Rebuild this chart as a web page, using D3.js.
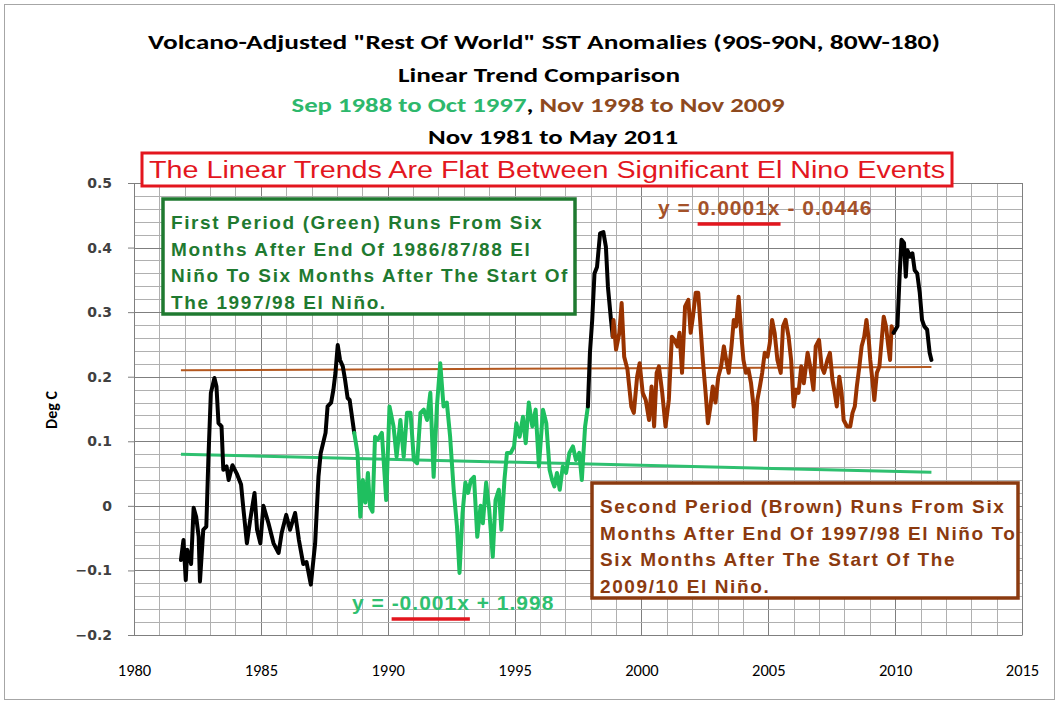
<!DOCTYPE html>
<html><head><meta charset="utf-8">
<script src="https://cdn.jsdelivr.net/npm/d3@7"></script>
<style>
body{margin:0;background:#fff;}
svg{display:block;}
</style></head>
<body>
<svg id="chart" width="1059" height="704"></svg>
<script>
// ---- DATA ----
const blackAYears = [1981.85,1981.95,1982.04,1982.10,1982.25,1982.35,1982.45,1982.55,1982.60,1982.73,1982.85,1982.93,1983.03,1983.17,1983.25,1983.33,1983.45,1983.52,1983.65,1983.73,1983.88,1984.05,1984.22,1984.30,1984.45,1984.58,1984.75,1984.85,1984.98,1985.10,1985.30,1985.50,1985.70,1985.82,1986.00,1986.15,1986.35,1986.50,1986.67,1986.80,1986.97,1987.14,1987.27,1987.36,1987.55,1987.63,1987.77,1987.86,1987.94,1988.03,1988.12,1988.23,1988.32,1988.42,1988.50,1988.68];
const blackAValues = [-0.084,-0.053,-0.115,-0.068,-0.090,-0.003,-0.017,-0.048,-0.117,-0.037,-0.032,0.071,0.175,0.198,0.185,0.128,0.123,0.056,0.061,0.040,0.063,0.050,0.033,0.000,-0.058,-0.022,0.020,-0.037,-0.058,0.000,-0.027,-0.058,-0.073,-0.042,-0.014,-0.037,-0.011,-0.053,-0.090,-0.087,-0.122,-0.058,0.045,0.082,0.113,0.154,0.160,0.180,0.206,0.249,0.226,0.216,0.195,0.167,0.164,0.113];

const greenYears = [1988.68,1988.81,1988.92,1989.02,1989.12,1989.22,1989.30,1989.40,1989.50,1989.60,1989.77,1989.94,1990.07,1990.23,1990.35,1990.50,1990.63,1990.76,1990.90,1991.03,1991.16,1991.29,1991.42,1991.55,1991.68,1991.81,1991.94,1992.07,1992.20,1992.33,1992.46,1992.60,1992.73,1992.83,1992.95,1993.06,1993.17,1993.28,1993.40,1993.53,1993.66,1993.75,1993.88,1994.00,1994.14,1994.25,1994.38,1994.48,1994.60,1994.70,1994.85,1994.98,1995.07,1995.20,1995.33,1995.44,1995.56,1995.70,1995.83,1995.96,1996.12,1996.25,1996.38,1996.48,1996.57,1996.67,1996.78,1996.90,1997.03,1997.16,1997.30,1997.42,1997.55,1997.65,1997.78,1997.89];
const greenValues = [0.113,0.082,-0.017,0.040,0.005,0.051,-0.001,-0.009,0.107,0.102,0.113,0.009,0.154,0.123,0.076,0.133,0.076,0.144,0.144,0.071,0.066,0.144,0.149,0.133,0.175,0.045,0.154,0.221,0.154,0.160,0.107,0.025,-0.032,-0.104,-0.011,0.036,0.020,0.040,0.045,-0.048,0.000,-0.027,0.036,-0.006,-0.079,0.009,0.025,-0.037,0.040,0.082,0.082,0.092,0.128,0.107,0.138,0.097,0.160,0.123,0.149,0.061,0.149,0.128,0.056,0.040,0.030,0.051,0.025,0.061,0.051,0.082,0.092,0.071,0.082,0.040,0.123,0.154];

const blackBYears = [1997.89,1997.97,1998.06,1998.15,1998.25,1998.37,1998.50,1998.60,1998.68,1998.80,1998.87];
const blackBValues = [0.154,0.237,0.288,0.360,0.370,0.422,0.424,0.401,0.339,0.288,0.262];

const brownYears = [1998.87,1998.90,1999.00,1999.13,1999.22,1999.32,1999.45,1999.60,1999.70,1999.83,1999.93,2000.05,2000.17,2000.30,2000.40,2000.50,2000.60,2000.69,2000.82,2000.95,2001.08,2001.20,2001.30,2001.42,2001.50,2001.60,2001.72,2001.85,2001.94,2002.03,2002.14,2002.24,2002.33,2002.42,2002.53,2002.62,2002.72,2002.81,2002.92,2003.03,2003.14,2003.25,2003.34,2003.44,2003.55,2003.64,2003.73,2003.83,2003.93,2004.02,2004.12,2004.22,2004.32,2004.42,2004.48,2004.57,2004.67,2004.76,2004.86,2004.97,2005.06,2005.15,2005.25,2005.36,2005.49,2005.58,2005.68,2005.80,2005.90,2006.00,2006.10,2006.19,2006.30,2006.40,2006.55,2006.65,2006.78,2006.87,2007.00,2007.10,2007.20,2007.33,2007.43,2007.53,2007.60,2007.70,2007.80,2007.89,2007.97,2008.10,2008.23,2008.32,2008.41,2008.49,2008.59,2008.68,2008.78,2008.87,2008.96,2009.02,2009.09,2009.18,2009.28,2009.38,2009.47,2009.55,2009.64,2009.73,2009.80,2009.86,2009.94];
const brownValues = [0.262,0.288,0.242,0.268,0.314,0.231,0.211,0.154,0.144,0.200,0.221,0.175,0.164,0.133,0.185,0.123,0.206,0.216,0.175,0.123,0.164,0.262,0.257,0.247,0.268,0.206,0.309,0.319,0.268,0.293,0.330,0.330,0.278,0.226,0.175,0.128,0.154,0.185,0.160,0.200,0.216,0.247,0.226,0.206,0.247,0.288,0.278,0.324,0.268,0.226,0.206,0.211,0.190,0.154,0.102,0.164,0.185,0.206,0.237,0.231,0.252,0.288,0.268,0.226,0.206,0.278,0.288,0.262,0.226,0.154,0.180,0.175,0.216,0.190,0.237,0.216,0.180,0.247,0.257,0.216,0.206,0.226,0.237,0.195,0.180,0.154,0.200,0.175,0.133,0.123,0.123,0.144,0.154,0.185,0.216,0.247,0.262,0.288,0.257,0.226,0.200,0.164,0.206,0.216,0.257,0.293,0.278,0.247,0.226,0.278,0.268];

const blackCYears = [2009.94,2010.09,2010.18,2010.25,2010.35,2010.42,2010.48,2010.59,2010.68,2010.77,2010.87,2010.97,2011.06,2011.15,2011.26,2011.36,2011.43];
const blackCValues = [0.268,0.278,0.360,0.412,0.407,0.355,0.396,0.386,0.391,0.365,0.360,0.330,0.288,0.278,0.273,0.237,0.226];

const trendYears = [1981.85, 2011.43];
const greenTrendValues = [0.080, 0.052];
const brownTrendValues = [0.210, 0.215];

const xTickLabels = [1980,1985,1990,1995,2000,2005,2010,2015];
const yTickLabels = [-0.2,-0.1,0,0.1,0.2,0.3,0.4,0.5];

const titleLines = ['Volcano-Adjusted "Rest Of World" SST Anomalies (90S-90N, 80W-180)','Linear Trend Comparison','Nov 1981 to May 2011'];
const periodLabels = ['Sep 1988 to Oct 1997', ', ', 'Nov 1998 to Nov 2009'];
const bannerText = 'The Linear Trends Are Flat Between Significant El Nino Events';
const greenNote = ['First Period (Green) Runs From Six','Months After End Of 1986/87/88 El','Niño To Six Months After The Start Of','The 1997/98 El Niño.'];
const brownNote = ['Second Period (Brown) Runs From Six','Months After End Of 1997/98 El Niño To','Six Months After The Start Of The','2009/10 El Niño.'];
const greenEq = ['y = ','-0.001x',' + 1.998'];
const brownEq = ['y = ','0.0001x',' - 0.0446'];

// ---- CHART ----
const svg = d3.select('#chart');
const W = 1059, H = 704;
const x = d3.scaleLinear().domain([1980, 2015]).range([134, 1022]);
const y = d3.scaleLinear().domain([-0.2, 0.5]).range([635, 183]);

const calibri = "Carlito, Calibri, Lato, 'Open Sans', sans-serif";
const arial = "'Liberation Sans', Arial, sans-serif";

// outer frame
svg.append('rect').attr('x',4.5).attr('y',4.5).attr('width',W-9).attr('height',H-9)
  .attr('fill','#fff').attr('stroke','#a6a6a6').attr('stroke-width',1);

// grid
const g = svg.append('g');
const minorYears = d3.range(1980, 2016, 1);
g.selectAll('.vg').data(minorYears).join('line')
  .attr('x1', d=>Math.round(x(d))+0.5).attr('x2', d=>Math.round(x(d))+0.5)
  .attr('y1', y(0.5)).attr('y2', y(-0.2))
  .attr('stroke', d=> d%5===0 ? '#7f7f7f' : '#b0b0b0').attr('stroke-width',1);
const minorY = d3.range(0, 36).map(i => -0.2 + i*0.02);
g.selectAll('.hg').data(minorY).join('line')
  .attr('x1', x(1980)).attr('x2', x(2015))
  .attr('y1', d=>Math.round(y(d))+0.5).attr('y2', d=>Math.round(y(d))+0.5)
  .attr('stroke', (d,i)=> i%5===0 ? '#7f7f7f' : '#b0b0b0').attr('stroke-width',1);

// axes
const yAxis = d3.axisLeft(y).tickValues(yTickLabels).tickSize(6).tickPadding(16)
  .tickFormat(d => d===0 ? '0' : d3.format('.1f')(d));
const ya = svg.append('g').attr('transform',`translate(${x(1980)},0)`).call(yAxis);
ya.select('.domain').attr('stroke','#7f7f7f');
ya.selectAll('.tick line').attr('stroke','#7f7f7f');
ya.selectAll('text').attr('font-family',"'DejaVu Sans', Verdana, sans-serif").attr('font-weight','bold')
  .attr('font-size','14px').attr('fill','#404040');

const xAxis = d3.axisBottom(x).tickValues(xTickLabels).tickSize(0).tickPadding(29).tickFormat(d3.format('d'));
const xa = svg.append('g').attr('transform',`translate(0,${y(-0.2)})`).call(xAxis);
xa.select('.domain').attr('stroke','#7f7f7f');
xa.selectAll('text').attr('font-family',calibri).attr('font-size','16.5px').attr('fill','#000');

svg.append('text').attr('transform','translate(57,410) rotate(-90)').attr('text-anchor','middle')
  .attr('font-family',calibri).attr('font-weight','bold').attr('font-size','16px').text('Deg C');

// trend lines
const line = d3.line().x(d=>x(d[0])).y(d=>y(d[1]));
svg.append('path').datum(d3.zip(trendYears, brownTrendValues)).attr('d',line)
  .attr('fill','none').attr('stroke','#b4581f').attr('stroke-width',2);
svg.append('path').datum(d3.zip(trendYears, greenTrendValues)).attr('d',line)
  .attr('fill','none').attr('stroke','#2fc070').attr('stroke-width',3);

// data series
const series = [
  [blackAYears, blackAValues, '#000'],
  [greenYears, greenValues, '#1fbf5f'],
  [blackBYears, blackBValues, '#000'],
  [brownYears, brownValues, '#993300'],
  [blackCYears, blackCValues, '#000']
];
series.forEach(([xs, vs, c]) => {
  svg.append('path').datum(d3.zip(xs, vs)).attr('d', line)
    .attr('fill','none').attr('stroke',c).attr('stroke-width',4)
    .attr('stroke-linejoin','round').attr('stroke-linecap','round');
});

// titles
const t = svg.append('g').attr('font-family',calibri).attr('font-weight','bold').attr('text-anchor','middle');
t.append('text').attr('x',544).attr('y',49).attr('font-size','20px').attr('textLength',792).attr('lengthAdjust','spacingAndGlyphs').text(titleLines[0]);
t.append('text').attr('x',539).attr('y',82).attr('font-size','20px').attr('textLength',282).attr('lengthAdjust','spacingAndGlyphs').text(titleLines[1]);
const pt = t.append('text').attr('x',538).attr('y',112).attr('font-size','20px').attr('textLength',493).attr('lengthAdjust','spacingAndGlyphs');
pt.append('tspan').attr('fill','#2db86c').text(periodLabels[0]);
pt.append('tspan').attr('fill','#000').text(periodLabels[1]);
pt.append('tspan').attr('fill','#8e4a1e').text(periodLabels[2]);
t.append('text').attr('x',553).attr('y',144).attr('font-size','20px').attr('textLength',250).attr('lengthAdjust','spacingAndGlyphs').text(titleLines[2]);

// banner
svg.append('rect').attr('x',142).attr('y',153).attr('width',810).attr('height',33)
  .attr('fill','#fff').attr('stroke','#e3161e').attr('stroke-width',3);
svg.append('text').attr('x',547).attr('y',178).attr('text-anchor','middle').attr('font-family',arial)
  .attr('font-size','23px').attr('fill','#e3161e').attr('textLength',796).attr('lengthAdjust','spacingAndGlyphs').text(bannerText);

// note boxes
function noteBox(x0, y0, w, h, stroke, fill, lines) {
  svg.append('rect').attr('x',x0).attr('y',y0).attr('width',w).attr('height',h)
    .attr('fill','#fff').attr('stroke',stroke).attr('stroke-width',3.5);
  const tx = svg.append('text').attr('font-family',arial).attr('font-weight','bold')
    .attr('font-size','19px').attr('fill',fill).attr('letter-spacing','1.6px');
  lines.forEach((l,i)=> tx.append('tspan').attr('x',x0+8).attr('y',y0+30+i*26.5).text(l));
}
noteBox(163,199,412,115,'#1f7a30','#1f7a30',greenNote);
noteBox(592,483,426,115,'#8b3a0f','#8b3a0f',brownNote);

// equations
function eq(x0, yb, parts, color, ulColor) {
  const tx = svg.append('text').attr('x',x0).attr('y',yb).attr('font-family',arial).attr('font-weight','bold')
    .attr('font-size','21px').attr('letter-spacing','1px').attr('fill',color);
  parts.forEach(p => tx.append('tspan').text(p));
  const a = tx.node().getSubStringLength(0, parts[0].length);
  const b = tx.node().getSubStringLength(parts[0].length, parts[1].length);
  svg.append('line').attr('x1',x0+a).attr('x2',x0+a+b).attr('y1',yb+9).attr('y2',yb+9)
    .attr('stroke',ulColor).attr('stroke-width',3.5);
}
eq(352, 610, greenEq, '#2fc070', '#e3161e');
eq(658, 215, brownEq, '#a4522a', '#e3161e');
</script>
</body></html>
